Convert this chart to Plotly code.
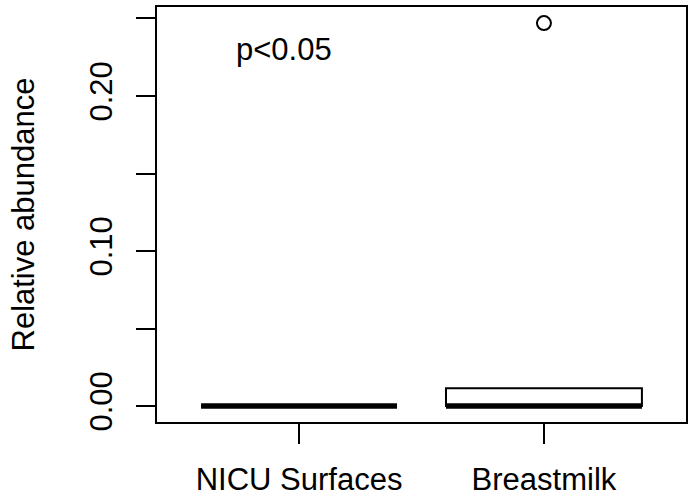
import plotly.graph_objects as go

# ---- data ----
groups = ["NICU Surfaces", "Breastmilk"]
group_pos = [1, 2]
q1 = [0.0, 0.0]
median = [0.0, 0.0]
q3 = [0.0, 0.0115]
lower_whisker = [0.0, 0.0]
upper_whisker = [0.0, 0.0115]
outlier_pos = [2]
outlier_values = [0.247]
y_tick_values = [0.0, 0.05, 0.10, 0.15, 0.20, 0.25]
y_tick_labels = ["0.00", "", "0.10", "", "0.20", ""]
annotation_text = "p<0.05"

FONT = "Liberation Sans, Arial, Helvetica, sans-serif"
BOX_W = 0.8

fig = go.Figure()

for i in range(len(groups)):
    fig.add_trace(go.Box(
        x=[group_pos[i]], q1=[q1[i]], median=[median[i]], q3=[q3[i]],
        lowerfence=[lower_whisker[i]], upperfence=[upper_whisker[i]],
        width=BOX_W, fillcolor="white", line=dict(color="black", width=2),
        boxpoints=False, whiskerwidth=0.5, showlegend=False, hoverinfo="skip",
    ))
    # thick median line (R style)
    fig.add_trace(go.Scatter(
        x=[group_pos[i] - BOX_W / 2, group_pos[i] + BOX_W / 2],
        y=[median[i], median[i]], mode="lines",
        line=dict(color="black", width=5.5), showlegend=False, hoverinfo="skip",
    ))

fig.add_trace(go.Scatter(
    x=outlier_pos, y=outlier_values, mode="markers",
    marker=dict(symbol="circle-open", size=14, color="black", line=dict(width=2)),
    showlegend=False, hoverinfo="skip",
))

fig.add_annotation(x=0.94, y=0.23, xref="x", yref="y", text=annotation_text,
                   showarrow=False, font=dict(family=FONT, size=31, color="black"),
                   xanchor="center", yanchor="middle")

fig.add_annotation(x=0, y=0.5, xref="paper", yref="paper", text="Relative abundance",
                   showarrow=False, textangle=-90, xshift=-134,
                   font=dict(family=FONT, size=31, color="black"),
                   xanchor="center", yanchor="middle")

fig.update_layout(
    width=688, height=497,
    margin=dict(l=157, r=2, t=7, b=75, autoexpand=False),
    paper_bgcolor="white", plot_bgcolor="white",
    font=dict(family=FONT, size=31, color="black"),
    xaxis=dict(range=[0.42, 2.58], tickvals=group_pos, ticktext=groups,
               ticks="outside", ticklen=20, tickwidth=2, tickcolor="black",
               showline=True, linewidth=2, linecolor="black", mirror=True,
               showgrid=False, zeroline=False, ticklabelstandoff=9, automargin=False),
    yaxis=dict(range=[-0.0103, 0.2574], tickvals=y_tick_values, ticktext=y_tick_labels,
               tickangle=-90, ticks="outside", ticklen=19, tickwidth=2, tickcolor="black",
               showline=True, linewidth=2, linecolor="black", mirror=True,
               showgrid=False, zeroline=False, ticklabelstandoff=12, automargin=False),
)

fig.write_html("out.html", config={"displayModeBar": False},
               post_script="document.body.style.margin='0';")
